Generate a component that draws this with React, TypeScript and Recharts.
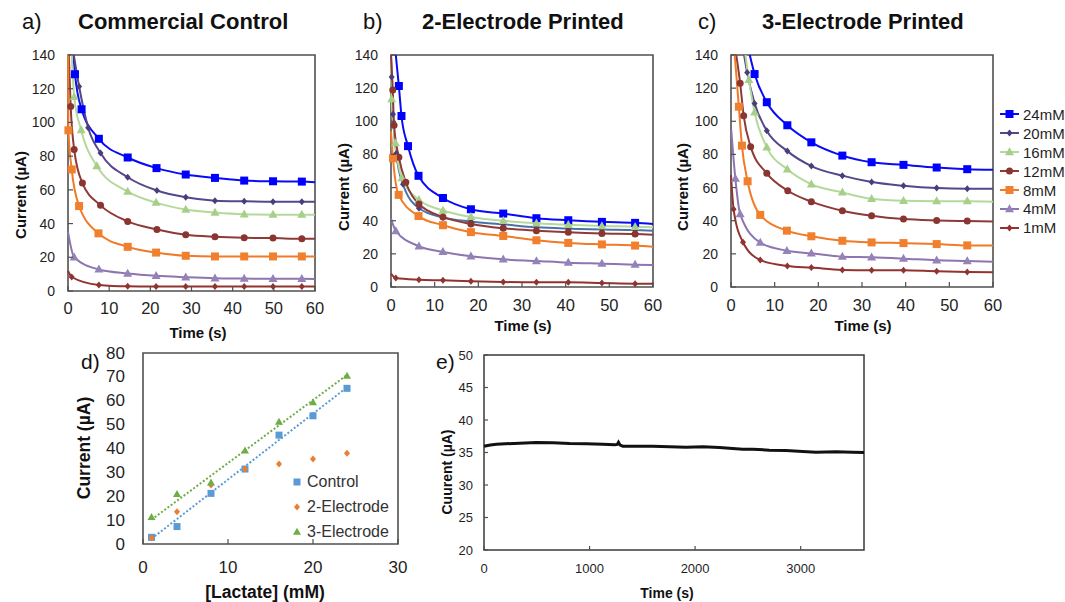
import React from 'react';
import {
  LineChart,
  ComposedChart,
  Line,
  Scatter,
  XAxis,
  YAxis,
  ReferenceArea,
  Legend,
} from 'recharts';

const FONT = "'Liberation Sans', Arial, Helvetica, sans-serif";
const NARROW = "'Liberation Sans Narrow', 'Arial Narrow', 'Liberation Sans', sans-serif";
const INK = '#1f1f1f';
const FRAME = '#505050';

type Pt = [number, number];
type Shape = 'square' | 'diamond' | 'triangle' | 'circle';

// [time (s), current (µA)]; first and last entry of each curve carry no marker
// a) Commercial Control
const a24: Pt[] = [[1.3, 140], [1.7, 128.6], [3.3, 107.8], [7.5, 90.3], [14.5, 79.2], [21.5, 72.9], [28.6, 69.1], [35.7, 67.1], [42.8, 65.5], [49.8, 65.1], [56.8, 64.9], [60, 64.5]];
const a20: Pt[] = [[1.4, 140], [2.7, 121.3], [4.9, 96.9], [7.9, 81.8], [14.5, 67.5], [21.6, 59.6], [28.6, 55.6], [35.7, 53.6], [42.8, 53.2], [49.8, 53], [56.8, 53], [60, 53]];
const a16: Pt[] = [[0.9, 140], [1.5, 115.2], [3.2, 95.5], [7, 74.1], [14.5, 59], [21.4, 52.4], [28.6, 48.3], [35.7, 46.5], [42.8, 45.5], [49.8, 45.3], [56.8, 45.3], [60, 45.2]];
const a12: Pt[] = [[0.2, 140], [0.65, 109.4], [1.5, 84], [3.5, 64], [7.9, 50.8], [14.5, 41.3], [21.6, 36.5], [28.6, 33.4], [35.7, 32.2], [42.8, 31.6], [49.8, 31.4], [56.8, 31], [60, 31]];
const a8: Pt[] = [[0.03, 140], [0.1, 95.3], [0.9, 72.1], [2.7, 50.4], [7.4, 34.2], [14.5, 26.2], [21.4, 22.8], [28.6, 20.9], [35.7, 20.5], [42.8, 20.5], [49.8, 20.5], [56.8, 20.5], [60, 20.4]];
const a4: Pt[] = [[0, 35], [1.5, 20], [7.5, 12.8], [14.5, 10.4], [21.4, 9], [28.6, 8.2], [35.7, 7.6], [42.8, 7.4], [49.8, 7.2], [56.8, 7.2], [60, 7.1]];
const a1: Pt[] = [[0, 12], [0.9, 8.3], [7.5, 3.6], [14.5, 2.8], [21.4, 2.7], [28.6, 2.7], [35.7, 2.6], [42.8, 2.6], [49.8, 2.6], [56.8, 2.6], [60, 2.6]];

// b) 2-Electrode Printed
const b24: Pt[] = [[1.1, 140], [1.8, 121.3], [2.4, 103.2], [3.9, 85], [6.3, 67.1], [11.9, 53.7], [18.3, 46.9], [25.7, 44.3], [33.3, 41.5], [40.6, 40.3], [48.3, 39.3], [55.9, 38.7], [60, 38]];
const b20: Pt[] = [[0, 140], [0.15, 126.7], [0.46, 104.3], [1.2, 80.6], [2.75, 62], [6.4, 47.5], [11.9, 42], [18.3, 39.5], [25.7, 37.8], [33.3, 36], [40.6, 35.2], [48.3, 34.7], [55.9, 34.4], [60, 34]];
const b16: Pt[] = [[0, 140], [0.15, 113.4], [1.0, 86.8], [2.5, 65.8], [6.4, 52.6], [11.9, 46.2], [18.3, 42.3], [25.7, 40], [33.3, 38.5], [40.6, 37.5], [48.3, 36.8], [55.9, 36.4], [60, 36]];
const b12: Pt[] = [[0, 140], [0.4, 118.9], [0.7, 97.6], [1.8, 78.3], [3.4, 63.2], [6.4, 50.1], [11.9, 42.3], [18.3, 38], [25.7, 35.4], [33.3, 34], [40.6, 33], [48.3, 32.3], [55.9, 32], [60, 31.5]];
const b8: Pt[] = [[0, 94], [0.45, 77.7], [1.75, 55.6], [6.3, 42.8], [11.9, 37.3], [18.3, 33.1], [25.7, 30.8], [33.3, 28.2], [40.6, 26.6], [48.3, 25.7], [55.9, 25], [60, 24.3]];
const b4: Pt[] = [[0, 41.3], [1.1, 33.8], [6.4, 24.6], [11.9, 21.2], [18.3, 18.5], [25.7, 16.7], [33.3, 15.7], [40.6, 14.7], [48.3, 14.1], [55.9, 13.5], [60, 13.3]];
const b1: Pt[] = [[0, 8.1], [1.1, 5.4], [6.4, 4.4], [11.9, 4], [18.3, 3.4], [25.7, 3], [33.3, 2.8], [40.6, 2.8], [48.3, 2.4], [55.9, 2.0], [60, 2]];

// c) 3-Electrode Printed
const c24: Pt[] = [[4.3, 140], [5.4, 128.5], [8.2, 111.5], [12.9, 97.6], [18.4, 87.3], [25.5, 79.3], [32.2, 75.3], [39.5, 73.7], [47.1, 72.1], [54.1, 71.1], [60, 70.7]];
const c20: Pt[] = [[3.0, 140], [3.7, 129.5], [5.4, 110.8], [8.2, 94.3], [12.9, 82], [18.4, 73], [25.5, 67.2], [32.2, 63.3], [39.5, 61.1], [47.1, 59.7], [54.1, 59.3], [60, 59.3]];
const c16: Pt[] = [[3.3, 140], [4.1, 125], [5.4, 105.4], [8.2, 84.3], [12.9, 71], [18.4, 62], [25.5, 57.1], [32.2, 53.2], [39.5, 52], [47.1, 51.8], [54.1, 51.8], [60, 51.5]];
const c12: Pt[] = [[1.2, 140], [2.1, 122.9], [2.9, 103.4], [4.5, 84.7], [8.2, 68.6], [13, 58.1], [18.4, 51.5], [25.5, 46], [32.2, 43], [39.5, 41], [47.1, 40.2], [54.1, 39.8], [60, 39.5]];
const c8: Pt[] = [[0.85, 140], [1.8, 108.8], [2.5, 85.3], [3.8, 63.8], [6.7, 43.5], [12.8, 34], [18.4, 30.6], [25.5, 27.9], [32.2, 26.9], [39.5, 26.5], [47.1, 25.9], [54.1, 25.1], [60, 25]];
const c4: Pt[] = [[0.05, 95], [1.0, 65.4], [2.1, 44], [6.7, 26.8], [12.8, 21.9], [18.4, 20.3], [25.5, 18.3], [32.2, 17.9], [39.5, 17.1], [47.1, 16.1], [54.1, 15.7], [60, 15.3]];
const c1: Pt[] = [[0, 67.6], [0.6, 46.9], [2.75, 27], [6.7, 16.3], [12.9, 12.7], [18.4, 11.7], [25.5, 10.3], [32.2, 10.1], [39.5, 10.1], [47.1, 9.5], [54.1, 9.1], [60, 8.9]];

const concLabels = ['24mM', '20mM', '16mM', '12mM', '8mM', '4mM', '1mM'];
const markerColors = ['#0000FF', '#4B3D7A', '#A6CF8A', '#8B3530', '#F0802E', '#9482B8', '#8E3431'];
const lineColors = ['#0A0AF5', '#54478A', '#B5D99C', '#8E3A36', '#F07A26', '#8C75B0', '#93332F'];
const lineColorsB = ['#0A0AF5', '#4A72A6', '#B5D99C', '#8E3A36', '#F07A26', '#8C75B0', '#93332F'];
const markerShapes: Shape[] = ['square', 'diamond', 'triangle', 'circle', 'square', 'triangle', 'diamond'];
const markerSizes = [8, 6, 8, 7, 8, 8, 6];
const timeTicks = [0, 10, 20, 30, 40, 50, 60];
const currentTicks = [0, 20, 40, 60, 80, 100, 120, 140];

// d) calibration
const lactate = [1, 4, 8, 12, 16, 20, 24];
const dControl = [2.8, 7.3, 21.2, 31.4, 45.6, 53.7, 65.2];
const dTwoElectrode = [2.5, 13.5, 24.7, 31.4, 33.5, 35.6, 38];
const dThreeElectrode = [11.2, 20.9, 25.7, 39.1, 51.1, 59.3, 70.4];
const trendX = [1, 24];
const trendControl = [2.2, 65.6];
const trendThree = [10.2, 70.8];
const lactateTicks = [0, 10, 20, 30];
const calTicks = [0, 10, 20, 30, 40, 50, 60, 70, 80];

// e) stability
const eTime = [0, 60, 117, 338, 495, 653, 811, 968, 1126, 1237, 1262, 1274, 1290, 1315, 1442, 1599, 1757, 1915, 2073, 2230, 2356, 2451, 2546, 2703, 2861, 3019, 3145, 3334, 3492, 3600];
const eCurrent = [35.97, 36.15, 36.28, 36.44, 36.54, 36.49, 36.38, 36.33, 36.28, 36.18, 36.25, 36.59, 36.13, 35.97, 35.97, 35.97, 35.87, 35.82, 35.87, 35.77, 35.62, 35.51, 35.51, 35.36, 35.31, 35.15, 35.05, 35.1, 35.05, 35.0];
const eTimeTicks = [0, 1000, 2000, 3000];
const eCurrentTicks = [20, 25, 30, 35, 40, 45, 50];

function Marker({ shape, cx, cy, color, size }: { shape: Shape; cx: number; cy: number; color: string; size: number }) {
  const h = size / 2;
  if (shape === 'square') return <rect x={cx - h} y={cy - h} width={size} height={size} fill={color} />;
  if (shape === 'circle') return <circle cx={cx} cy={cy} r={h} fill={color} />;
  if (shape === 'diamond')
    return <polygon points={`${cx},${cy - h - 0.5} ${cx + h},${cy} ${cx},${cy + h + 0.5} ${cx - h},${cy}`} fill={color} />;
  return <polygon points={`${cx},${cy - size * 0.6} ${cx + h + 0.5},${cy + size * 0.4} ${cx - h - 0.5},${cy + size * 0.4}`} fill={color} />;
}

function bottomTick(fontSize: number, gap: number, family = FONT, inner = 5) {
  return (p: any) => (
    <g key={`xt-${p.index}`}>
      <line x1={p.x} x2={p.x} y1={p.y} y2={p.y - inner} stroke={FRAME} strokeWidth={1.2} />
      <text x={p.x} y={p.y + gap} textAnchor="middle" dominantBaseline="central" fontSize={fontSize} fontFamily={family} fill={INK}>
        {p.payload.value}
      </text>
    </g>
  );
}

function leftTick(fontSize: number, gap: number, family = FONT, inner = 5) {
  return (p: any) => (
    <g key={`yt-${p.index}`}>
      <line x1={p.x} x2={p.x + inner} y1={p.y} y2={p.y} stroke={FRAME} strokeWidth={1.2} />
      <text x={p.x - gap} y={p.y} textAnchor="end" dominantBaseline="central" fontSize={fontSize} fontFamily={family} fill={INK}>
        {p.payload.value}
      </text>
    </g>
  );
}

function markerDot(shape: Shape, color: string, size: number, count: number) {
  return (p: any) => {
    const key = `m-${p.index}`;
    if (p.index === 0 || p.index === count - 1 || p.cx == null || p.cy == null) return <g key={key} />;
    return <Marker key={key} shape={shape} cx={p.cx} cy={p.cy} color={color} size={size} />;
  };
}

function ConcLegend() {
  return (
    <div style={{ fontFamily: FONT, fontSize: 15, color: INK }}>
      {concLabels.map((label, i) => (
        <div key={label} style={{ height: 18.9, display: 'flex', alignItems: 'center' }}>
          <svg width={21} height={12}>
            <line x1={1} x2={20} y1={6} y2={6} stroke={lineColors[i]} strokeWidth={2} />
            <Marker shape={markerShapes[i]} cx={10.5} cy={6} color={markerColors[i]} size={markerSizes[i]} />
          </svg>
          <span style={{ marginLeft: 3, paddingLeft: label.length < 4 ? 0 : 0 }}>{label}</span>
        </div>
      ))}
    </div>
  );
}

interface Plot { l: number; t: number; r: number; b: number }

function DecayPanel({ plot, padR, series, colors, xGap, legend }: {
  plot: Plot; padR: number; series: Pt[][]; colors: string[]; xGap: number; legend?: boolean;
}) {
  const padL = 66, padT = 12, padB = 30;
  const left = plot.l - padL;
  const top = plot.t - padT;
  const width = plot.r - plot.l + padL + padR;
  const height = plot.b - plot.t + padT + padB;
  return (
    <div style={{ position: 'absolute', left, top }}>
      <LineChart width={width} height={height} margin={{ top: padT, right: padR, bottom: 0, left: 0 }}>
        <XAxis type="number" dataKey="t" domain={[0, 60]} ticks={timeTicks} height={padB}
          axisLine={false} tickLine={false} tickSize={0} tickMargin={0} tick={bottomTick(16.5, xGap)} />
        <YAxis type="number" dataKey="v" domain={[0, 140]} ticks={currentTicks} width={padL}
          axisLine={false} tickLine={false} tickSize={0} tickMargin={0} tick={leftTick(14, 13)} />
        <ReferenceArea x1={0} x2={60} y1={0} y2={140} fill="none" stroke={FRAME} strokeWidth={1.6} ifOverflow="visible" />
        {series.map((pts, i) => (
          <Line
            key={concLabels[i]}
            name={concLabels[i]}
            data={pts.map(([t, v]) => ({ t, v }))}
            dataKey="v"
            type="monotone"
            stroke={colors[i]}
            strokeWidth={2}
            dot={markerDot(markerShapes[i], markerColors[i], markerSizes[i], pts.length)}
            activeDot={false}
            isAnimationActive={false}
          />
        ))}
        {legend && (
          <Legend layout="vertical" align="center" verticalAlign="middle"
            wrapperStyle={{ left: 999 - left, top: 105 - top, width: 66 }}
            content={() => <ConcLegend />} />
        )}
      </LineChart>
    </div>
  );
}

const calSeries = [
  { name: 'Control', values: dControl, color: '#5B9BD5', shape: 'square' as Shape, size: 7 },
  { name: '2-Electrode', values: dTwoElectrode, color: '#ED7D31', shape: 'diamond' as Shape, size: 6 },
  { name: '3-Electrode', values: dThreeElectrode, color: '#70AD47', shape: 'triangle' as Shape, size: 7 },
];

function CalLegend() {
  return (
    <div style={{ fontFamily: FONT, fontSize: 16, color: '#333' }}>
      {calSeries.map((s) => (
        <div key={s.name} style={{ height: 25, display: 'flex', alignItems: 'center' }}>
          <svg width={14} height={12}>
            <Marker shape={s.shape} cx={7} cy={6} color={s.color} size={s.size} />
          </svg>
          <span style={{ marginLeft: 3 }}>{s.name}</span>
        </div>
      ))}
    </div>
  );
}

function CalibrationPanel() {
  const plot = { l: 143, t: 353, r: 398, b: 544 };
  const padL = 70, padT = 12, padR = 10, padB = 40;
  const left = plot.l - padL;
  const top = plot.t - padT;
  return (
    <div style={{ position: 'absolute', left, top }}>
      <ComposedChart width={plot.r - plot.l + padL + padR} height={plot.b - plot.t + padT + padB}
        margin={{ top: padT, right: padR, bottom: 0, left: 0 }}>
        <XAxis type="number" dataKey="x" domain={[0, 30]} ticks={lactateTicks} height={padB}
          axisLine={false} tickLine={false} tickSize={0} tickMargin={0} tick={bottomTick(17, 23)} />
        <YAxis type="number" dataKey="y" domain={[0, 80]} ticks={calTicks} width={padL}
          axisLine={false} tickLine={false} tickSize={0} tickMargin={0} tick={leftTick(17, 18, FONT, 0)} />
        <ReferenceArea x1={0} x2={30} y1={0} y2={80} fill="none" stroke={FRAME} strokeWidth={1.6} ifOverflow="visible" />
        <Line data={trendX.map((x, i) => ({ x, y: trendControl[i] }))} dataKey="y" type="linear" stroke="#5B9BD5"
          strokeWidth={2} strokeDasharray="2 2" dot={false} activeDot={false} isAnimationActive={false} />
        <Line data={trendX.map((x, i) => ({ x, y: trendThree[i] }))} dataKey="y" type="linear" stroke="#70AD47"
          strokeWidth={2} strokeDasharray="2 2" dot={false} activeDot={false} isAnimationActive={false} />
        {calSeries.map((s) => (
          <Scatter key={s.name} name={s.name} data={lactate.map((x, i) => ({ x, y: s.values[i] }))} dataKey="y"
            isAnimationActive={false}
            shape={(p: any) => <Marker shape={s.shape} cx={p.cx} cy={p.cy} color={s.color} size={s.size} />} />
        ))}
        <Legend layout="vertical" align="center" verticalAlign="middle"
          wrapperStyle={{ left: 290 - left, top: 469.5 - top, width: 110 }}
          content={() => <CalLegend />} />
      </ComposedChart>
    </div>
  );
}

function StabilityPanel() {
  const plot = { l: 484, t: 355, r: 864, b: 550 };
  const padL = 44, padT = 12, padR = 10, padB = 30;
  const left = plot.l - padL;
  const top = plot.t - padT;
  return (
    <div style={{ position: 'absolute', left, top }}>
      <LineChart width={plot.r - plot.l + padL + padR} height={plot.b - plot.t + padT + padB}
        margin={{ top: padT, right: padR, bottom: 0, left: 0 }}>
        <XAxis type="number" dataKey="t" domain={[0, 3600]} ticks={eTimeTicks} height={padB}
          axisLine={false} tickLine={false} tickSize={0} tickMargin={0} tick={bottomTick(13, 18, NARROW, 4)} />
        <YAxis type="number" dataKey="v" domain={[20, 50]} ticks={eCurrentTicks} width={padL}
          axisLine={false} tickLine={false} tickSize={0} tickMargin={0} tick={leftTick(13, 11, NARROW, 4)} />
        <ReferenceArea x1={0} x2={3600} y1={20} y2={50} fill="none" stroke="#3a3a3a" strokeWidth={1.5} ifOverflow="visible" />
        <Line data={eTime.map((t, i) => ({ t, v: eCurrent[i] }))} dataKey="v" type="linear" stroke="#111"
          strokeWidth={3} dot={false} activeDot={false} isAnimationActive={false} />
      </LineChart>
    </div>
  );
}

function Txt({ x, y, children, size, bold, center, rotate, family = FONT }: {
  x: number; y: number; children: React.ReactNode; size: number; bold?: boolean; center?: boolean; rotate?: boolean; family?: string;
}) {
  const tf = rotate ? 'translate(-50%,-50%) rotate(-90deg)' : center ? 'translate(-50%,-50%)' : 'translateY(-50%)';
  return (
    <div style={{
      position: 'absolute', left: x, top: y, transform: tf, fontSize: size, fontWeight: bold ? 700 : 400,
      fontFamily: family, lineHeight: 1, whiteSpace: 'nowrap', color: '#111',
    }}>
      {children}
    </div>
  );
}

export default function App() {
  return (
    <div style={{ position: 'absolute', left: 0, top: 0, width: 1065, height: 602, background: '#fff', overflow: 'hidden' }}>
      <DecayPanel plot={{ l: 68, t: 55, r: 315, b: 291 }} padR={14} series={[a24, a20, a16, a12, a8, a4, a1]} colors={lineColors} xGap={17} />
      <DecayPanel plot={{ l: 391, t: 55, r: 653, b: 287 }} padR={14} series={[b24, b20, b16, b12, b8, b4, b1]} colors={lineColorsB} xGap={18} />
      <DecayPanel plot={{ l: 731, t: 55, r: 993, b: 287 }} padR={72} series={[c24, c20, c16, c12, c8, c4, c1]} colors={lineColors} xGap={18} legend />
      <CalibrationPanel />
      <StabilityPanel />

      <Txt x={22} y={22} size={22}>a)</Txt>
      <Txt x={78} y={22} size={22} bold>Commercial Control</Txt>
      <Txt x={363} y={22} size={22}>b)</Txt>
      <Txt x={422} y={22} size={22} bold>2-Electrode Printed</Txt>
      <Txt x={698} y={22} size={22}>c)</Txt>
      <Txt x={762} y={22} size={22} bold>3-Electrode Printed</Txt>

      <Txt x={20} y={195} size={15} bold rotate>Current (µA)</Txt>
      <Txt x={343} y={187} size={15} bold rotate>Current (µA)</Txt>
      <Txt x={682} y={187} size={15} bold rotate>Current (µA)</Txt>
      <Txt x={198} y={332} size={15} bold center>Time (s)</Txt>
      <Txt x={523} y={325} size={15} bold center>Time (s)</Txt>
      <Txt x={863} y={325} size={15} bold center>Time (s)</Txt>

      <Txt x={81} y={361} size={21}>d)</Txt>
      <Txt x={85} y={448} size={17.5} bold rotate>Current (µA)</Txt>
      <Txt x={265} y={593} size={17.5} bold center>[Lactate] (mM)</Txt>

      <Txt x={436} y={361} size={21}>e)</Txt>
      <Txt x={447} y={472} size={14} bold rotate>Cuurent (µA)</Txt>
      <Txt x={667} y={593} size={14} bold center family={NARROW}>Time (s)</Txt>
    </div>
  );
}
